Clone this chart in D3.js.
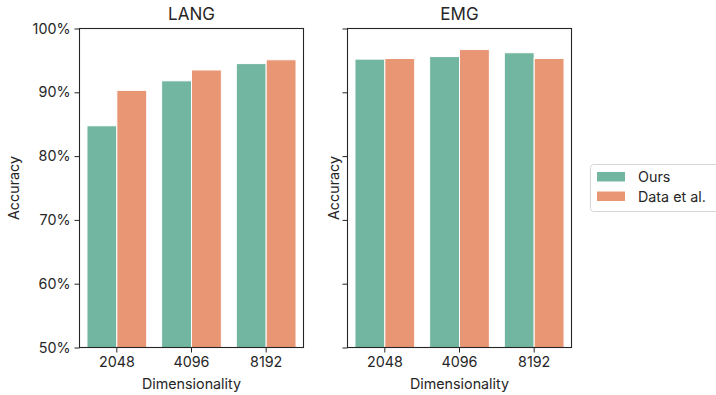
<!DOCTYPE html>
<html><head><meta charset="utf-8">
<script src="https://cdn.jsdelivr.net/npm/d3@7"></script>
<style>
html,body{margin:0;padding:0;background:#fff;}
text{font-family:Inter,"DejaVu Sans",sans-serif;fill:#262626;}
</style></head>
<body>
<svg id="c" width="716" height="395"></svg>
<script>
const categories = ["2048", "4096", "8192"];
const series = ["Ours", "Data et al."];
const panels = ["LANG", "EMG"];
const langOurs = [84.75, 91.8, 94.5];
const langData = [90.3, 93.5, 95.1];
const emgOurs = [95.2, 95.6, 96.2];
const emgData = [95.3, 96.7, 95.3];
const yTicks = [50, 60, 70, 80, 90, 100];
const colors = ["#72b6a1", "#e99675"];

const panelValues = {LANG: [langOurs, langData], EMG: [emgOurs, emgData]};
const svg = d3.select("#c");
const plotTop = 28.5, plotBottom = 347.5;
const lefts = [79.5, 347.5], w = 224;
const fs = 14.3;
const y = d3.scaleLinear().domain([50, 100]).range([plotBottom, plotTop]);

panels.forEach((p, pi) => {
  const x0 = lefts[pi];
  const g = svg.append("g");
  const x = d3.scaleBand().domain(categories).range([x0, x0 + w]).paddingInner(0.2).paddingOuter(0.1);
  const xs = d3.scaleBand().domain(series).range([0, x.bandwidth()]);
  const vals = panelValues[p];
  series.forEach((s, si) => {
    g.selectAll(null).data(categories).enter().append("rect")
      .attr("x", (c) => x(c) + xs(s))
      .attr("width", xs.bandwidth())
      .attr("y", (c, i) => y(vals[si][i]))
      .attr("height", (c, i) => plotBottom - y(vals[si][i]))
      .attr("fill", colors[si])
      .attr("stroke", "#fff").attr("stroke-width", 1);
  });
  g.append("rect").attr("x", x0).attr("y", plotTop).attr("width", w).attr("height", plotBottom - plotTop)
    .attr("fill", "none").attr("stroke", "#262626").attr("stroke-width", 1.1);
  const ya = d3.axisLeft(y).tickValues(yTicks).tickSize(5).tickPadding(4)
    .tickFormat(pi === 0 ? (d => d + "%") : (() => ""));
  const yg = g.append("g").attr("transform", `translate(${x0},0)`).call(ya);
  yg.select(".domain").remove();
  yg.selectAll("line").attr("stroke", "#262626");
  yg.selectAll("text").attr("font-size", fs).style("fill", "#262626");
  const xa = d3.axisBottom(x).tickSize(5).tickPadding(4);
  const xg = g.append("g").attr("transform", `translate(0,${plotBottom})`).call(xa);
  xg.select(".domain").remove();
  xg.selectAll("line").attr("stroke", "#262626");
  xg.selectAll("text").attr("font-size", fs).style("fill", "#262626");
  g.append("text").attr("x", x0 + w / 2).attr("y", 20).attr("text-anchor", "middle")
    .attr("font-size", 17).text(p);
  g.append("text").attr("x", x0 + w / 2).attr("y", 389).attr("text-anchor", "middle")
    .attr("font-size", fs).text("Dimensionality");
  g.append("text").attr("transform", `translate(${x0 - (pi === 0 ? 61 : 9)},${(plotTop + plotBottom) / 2}) rotate(-90)`)
    .attr("text-anchor", "middle").attr("font-size", fs).text("Accuracy");
});

const lg = svg.append("g");
lg.append("rect").attr("x", 590.5).attr("y", 164.5).attr("width", 140).attr("height", 47)
  .attr("rx", 3).attr("fill", "#fff").attr("stroke", "#d6d6d6");
series.forEach((s, i) => {
  lg.append("rect").attr("x", 597).attr("y", 172 + i * 19.5).attr("width", 28).attr("height", 9.5).attr("fill", colors[i]);
  lg.append("text").attr("x", 638).attr("y", 182 + i * 19.5).attr("font-size", fs).text(s);
});
</script>
</body></html>
